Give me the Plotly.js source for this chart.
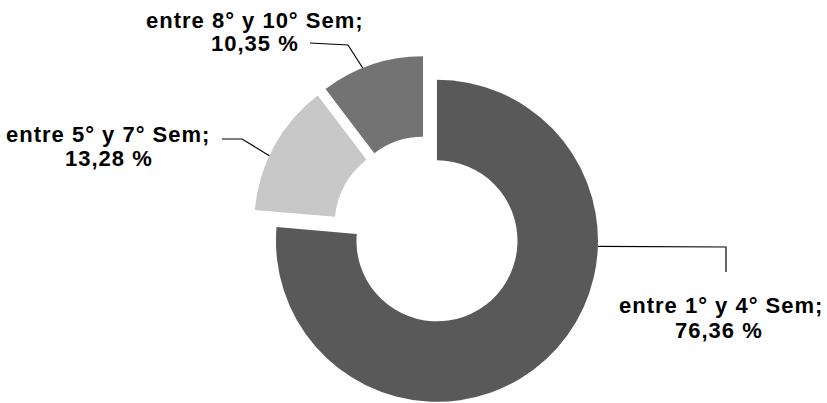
<!DOCTYPE html>
<html><head><meta charset="utf-8">
<script src="https://cdn.plot.ly/plotly-3.0.1.min.js"></script>
<style>
html,body{margin:0;padding:0;overflow:hidden;background:#fff}
#chart{width:827px;height:406px}
.annotation-text{letter-spacing:1px}
</style></head><body><div id="chart"></div>
<script>
// ---- data ----
const categories = ["entre 1° y 4° Sem", "entre 5° y 7° Sem", "entre 8° y 10° Sem"];
const values = [76.36, 13.28, 10.35];
const colors = ["#595959", "#c8c8c8", "#737373"];

// ---- layout constants (pixels) ----
const W = 827, H = 406;
const CX = 427.5, CY = 230.5, R = 161, PULL = 0.087, HOLE = 0.5;
const half = R * (1 + PULL);
const domain = {
  x: [(CX - half) / W, (CX + half) / W],
  y: [Math.max(0, 1 - (CY + half) / H), 1 - (CY - half) / H]
};
// label placement: centre of each text line, elbow and end of leader, attach angle on slice
const labelPos = [
  {l1: [721, 305.5], l2: [719, 330], elbow: [726, 247], end: [726, 272], attach: 92},
  {l1: [108, 134.5], l2: [109, 158.5], elbow: [242, 139], end: [222, 139], attach: 295},
  {l1: [254.5, 20.5], l2: [255, 44], elbow: [348, 45], end: [310, 43], attach: 338}
];

const px = x => x / W;
const py = y => 1 - y / H;
const rad = d => d * Math.PI / 180;

const total = values.reduce((a, b) => a + b, 0);
let cum = 0;
const shapes = [], annotations = [];
const fmt = v => v.toFixed(2).replace('.', ',') + ' %';
const font = {family: 'Liberation Sans, Arial, sans-serif', size: 22, color: '#000', weight: 'bold'};

values.forEach((v, i) => {
  const start = cum / total * 360;
  cum += v;
  const end = cum / total * 360;
  const mid = (start + end) / 2;
  const pcx = CX + PULL * R * Math.sin(rad(mid));
  const pcy = CY - PULL * R * Math.cos(rad(mid));
  const L = labelPos[i];
  const sx = pcx + R * Math.sin(rad(L.attach));
  const sy = pcy - R * Math.cos(rad(L.attach));
  shapes.push({
    type: 'path', xref: 'paper', yref: 'paper',
    path: `M ${px(sx)} ${py(sy)} L ${px(L.elbow[0])} ${py(L.elbow[1])} L ${px(L.end[0])} ${py(L.end[1])}`,
    line: {color: '#000', width: 1.2}
  });
  annotations.push({
    xref: 'paper', yref: 'paper', x: px(L.l1[0]), y: py(L.l1[1]),
    xanchor: 'center', yanchor: 'middle', showarrow: false,
    text: categories[i] + ';', font: font
  });
  annotations.push({
    xref: 'paper', yref: 'paper', x: px(L.l2[0]), y: py(L.l2[1]),
    xanchor: 'center', yanchor: 'middle', showarrow: false,
    text: fmt(v), font: font
  });
});

const trace = {
  type: 'pie',
  labels: categories,
  values: values,
  marker: {colors: colors, line: {width: 0}},
  hole: HOLE,
  pull: values.map(() => PULL),
  sort: false,
  direction: 'clockwise',
  rotation: 0,
  textinfo: 'none',
  hoverinfo: 'skip',
  showlegend: false,
  domain: domain
};

Plotly.newPlot('chart', [trace], {
  width: W, height: H,
  margin: {l: 0, r: 0, t: 0, b: 0},
  paper_bgcolor: '#fff',
  showlegend: false,
  shapes: shapes,
  annotations: annotations
}, {staticPlot: true, displayModeBar: false});
</script></body></html>
